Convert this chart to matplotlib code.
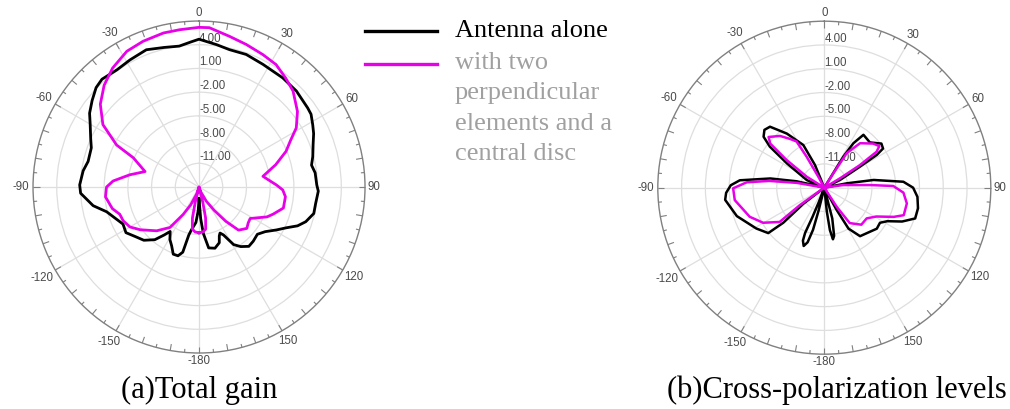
import numpy as np
import matplotlib
matplotlib.use("Agg")
import matplotlib.pyplot as plt
from matplotlib.lines import Line2D

# ---------------- data ----------------
R_MIN, R_MAX = -14.0, 7.0
ring_values = [-11, -8, -5, -2, 1, 4]
ring_labels = ["-11.00", "-8.00", "-5.00", "-2.00", "1.00", "4.00"]
theta_tick_deg = [0, 30, 60, 90, 120, 150, 180, 210, 240, 270, 300, 330]
theta_tick_labels = ["0", "30", "60", "90", "120", "150", "-180", "-150", "-120", "-90", "-60", "-30"]

# (a) Total gain - Antenna alone
gain_alone_ang = [-180, -178, -175, -170, -168, -166, -163, -159, -155, -151, -147, -144, -140,
                  -134, -128, -122, -116, -109, -105, -100, -93, -89, -82, -77, -70, -66, -60,
                  -56, -51, -46, -42, -35, -28.5, -21, -14, -8, -3, 0, 7, 12.5, 19.6, 27.5,
                  37.5, 45.4, 54, 57, 61.3, 65, 69.6, 75, 79, 83, 89, 92, 98, 103, 108, 111.5,
                  115, 119, 124, 129, 135, 140, 145, 149, 153, 155.5, 157.5, 160, 165.4, 171,
                  174.7, 177, 180]
gain_alone_db = [-12.5, -11.0, -9.5, -8.5, -7.8, -5.5, -4.9, -4.9, -5.8, -6.4, -7.3, -6.5, -5.3,
                 -4.3, -3.8, -3.1, -3.3, -2.5, -1.9, -0.4, 1.0, 1.1, 0.8, 0.4, 0.5, 1.0, 1.9,
                 2.7, 3.4, 4.1, 4.35, 4.1, 4.3, 4.6, 4.2, 4.0, 4.4, 4.7, 4.15, 3.8, 3.8, 3.5,
                 3.4, 3.3, 3.0, 2.9, 2.4, 2.0, 1.4, 0.9, 0.5, 0.8, 0.9, 1.1, 0.9, 0.9, 0.2, -0.6,
                 -1.8, -2.8, -3.9, -4.5, -4.3, -4.2, -4.8, -5.5, -7.2, -7.6, -7.3, -6.5, -6.0, -6.2,
                 -8.1, -10.0, -12.5]

# (a) Total gain - with two perpendicular elements and a central disc
gain_disc_ang = [-180, -175, -171, -168, -166, -164, -161.6, -155, -150, -144.3, -136, -126,
                 -120, -114, -109, -104, -96, -90, -86, -80, -74, -66, -63, -57, -50, -43, -36,
                 -28, -21, -13, -7, 0, 3.7, 11.4, 18.3, 25.7, 32.2, 38.6, 44.4, 52.5, 58.7, 63,
                 67.7, 73.8, 80.5, 85, 88.5, 92, 96.4, 104, 110, 113.7, 121.6, 126, 130.9, 137.5,
                 142, 147, 153, 160, 164, 166, 168, 171, 175, 180]
gain_disc_db = [-8.2, -8.3, -8.6, -10.0, -12.0, -14.0, -13.1, -11.5, -10.0, -7.7, -6.3, -4.8,
                -3.9, -3.5, -3.4, -2.7, -2.1, -2.3, -3.1, -5.1, -6.9, -4.9, -2.3, 0.5, 2.3, 3.6, 4.6,
                5.45, 5.75, 6.0, 6.05, 6.2, 6.2, 5.45, 5.0, 4.6, 4.3, 3.6, 3.0, 1.7, 0.4, -1.0,
                -2.1, -3.9, -5.8, -5.0, -4.2, -3.4, -3.0, -3.0, -4.0, -4.6, -6.4, -6.3, -6.0, -6.6,
                -8.5, -10.5, -12.0, -13.3, -14.0, -12.0, -10.0, -8.6, -8.3, -8.2]

# (b) Cross-polarization - Antenna alone
xpol_alone_ang = [-180, -167, -166, -165, -163, -160.5, -158, -157, -158, -159, -160,
                  -133, -127.5, -130.5, -129, -121, -108, -97, -93, -88.5, -85, -80.3, -77, -76, -75,
                  -68, -66.5, -57, -53, -50, -46, -41.7, -34.7, -26.2, -22.4, -21,
                  28, 31.5, 33.2, 36.5, 45.2, 52.3, 56.3, 58, 59.5, 63.9, 66,
                  76, 79, 81.1, 85.7, 90, 95.6, 102.4, 108.7, 113.5, 118, 122.2, 128, 134, 143.6,
                  149.4, 151, 152,
                  163, 165.5, 168.5, 170.5, 172.5, 174, 176, 180]
xpol_alone_db = [-14, -14, -11, -8.5, -6.8, -6.2, -6.8, -7.8, -10, -12, -14,
                 -14, -10.7, -7.2, -4.9, -4.0, -2.4, -1.4, -1.6, -2.2, -3.3, -7.1, -10.4, -12.6, -14,
                 -14, -11.6, -8.4, -5.4, -4.0, -3.5, -3.7, -5.7, -8.0, -10.9, -14,
                 -14, -9.4, -7.3, -5.7, -5.9, -4.9, -5.1, -6.2, -8.8, -11.8, -14,
                 -14, -11.1, -7.7, -4.0, -2.8, -2.2, -1.9, -1.9, -3.3, -5.0, -5.7, -5.6, -6.0, -6.4,
                 -8.0, -10.8, -14,
                 -14, -10, -7.8, -7.4, -8.6, -11, -14, -14]

# (b) Cross-polarization - with two perpendicular elements and a central disc
xpol_disc_ang = [-180, -128, -125.5, -127.5, -119.8, -111.3, -97.9, -90.4, -86, -83, -80, -78,
                 -60, -58, -53.7, -50.8, -47.7, -40.6, -35, -31, -29.7, -28.6, -28,
                 30, 32.1, 33, 38.8, 47.9, 52.9, 55.5, 57.6, 59.2, 61,
                 80, 82, 86.7, 88.6, 93.6, 100.8, 109.1, 112.8, 119, 125.9, 135, 144.3, 147, 148,
                 180]
xpol_disc_db = [-14, -14, -10.2, -6.9, -5.1, -3.9, -2.6, -2.5, -4.2, -7.0, -10.5, -14,
                -14, -11.4, -8.1, -5.2, -4.5, -5.4, -6.5, -7.2, -9.5, -12.4, -14,
                -14, -11.9, -8.8, -6.8, -5.7, -5.3, -6.0, -8.7, -11.7, -14,
                -14, -11.6, -8.2, -5.3, -4.0, -3.4, -3.4, -4.5, -6.5, -7.4, -7.4, -8.5, -11.1, -14,
                -14]

series_names = ["Antenna alone", "with two\nperpendicular\nelements and a\ncentral disc"]
captions = ["(a)Total gain", "(b)Cross-polarization levels"]

# ---------------- style ----------------
BLACK = "#000000"
MAGENTA = "#e800e8"
GRID = "#dedede"
SPINE = "#808080"
TICKTXT = "#4a4a4a"
DPI = 100
PX_PER_DB = 166.0 / (R_MAX - R_MIN)

fig = plt.figure(figsize=(10.10, 4.09), dpi=DPI)


def setup(ax):
    ax.set_theta_zero_location("N")
    ax.set_theta_direction(-1)
    ax.set_ylim(R_MIN, R_MAX)
    ax.set_xticks(np.deg2rad(theta_tick_deg))
    ax.set_xticklabels([])
    ax.tick_params(axis="x", length=0)
    ax.set_yticks(ring_values)
    ax.set_yticklabels([])
    ax.grid(True, which="major", color=GRID, lw=0.9)
    ax.spines["polar"].set_color(SPINE)
    ax.spines["polar"].set_linewidth(1.0)
    # tick marks on the outer circle (inward)
    for deg in range(0, 360, 5):
        L = 6.5 if deg % 10 == 0 else 3.5
        t = np.deg2rad(deg)
        ax.plot([t, t], [R_MAX, R_MAX - L / PX_PER_DB], color=SPINE, lw=0.8,
                solid_capstyle="butt", zorder=2, clip_on=False)
    # angle labels outside the circle
    for deg, lab in zip(theta_tick_deg, theta_tick_labels):
        t = np.deg2rad(deg)
        w = 5.6 * len(lab)
        h = 9.0
        d = 0.5 * w * abs(np.sin(t)) + 0.5 * h * abs(np.cos(t)) + 3.5
        dx_pt = d * np.sin(t) * 72.0 / DPI
        dy_pt = d * np.cos(t) * 72.0 / DPI
        ax.annotate(lab, xy=(t, R_MAX), xytext=(dx_pt, dy_pt), textcoords="offset points",
                    ha="center", va="center", fontsize=8.3, color=TICKTXT,
                    family="Liberation Sans", annotation_clip=False)
    for r, lab in zip(ring_values, ring_labels):
        ax.text(0, r, lab, ha="left", va="bottom", fontsize=8.3, color=TICKTXT,
                family="Liberation Sans", zorder=1)


ax1 = fig.add_axes([0.0327, 0.1369, 0.3287, 0.8117], projection="polar")
setup(ax1)
ax1.plot(np.deg2rad(gain_alone_ang), gain_alone_db, color=BLACK, lw=2.0, zorder=3)
ax1.plot(np.deg2rad(gain_disc_ang), gain_disc_db, color=MAGENTA, lw=2.0, zorder=3)

ax2 = fig.add_axes([0.6513, 0.134, 0.3297, 0.8142], projection="polar")
setup(ax2)
ax2.plot(np.deg2rad(xpol_alone_ang), xpol_alone_db, color=BLACK, lw=1.8, zorder=3)
ax2.plot(np.deg2rad(xpol_disc_ang), xpol_disc_db, color=MAGENTA, lw=1.8, zorder=3)

# legend
W, H = 1010.0, 409.0
fig.add_artist(Line2D([365 / W, 437 / W], [1 - 31 / H, 1 - 31 / H], color=BLACK, lw=2.4))
fig.add_artist(Line2D([365 / W, 437 / W], [1 - 64 / H, 1 - 64 / H], color=MAGENTA, lw=2.4))
fig.text(455 / W, 1 - 31 / H, series_names[0], ha="left", va="center",
         fontsize=19, family="Liberation Serif", color="#000000")
for i, line in enumerate(series_names[1].split("\n")):
    fig.text(455 / W, 1 - (63 + 30.5 * i) / H, line, ha="left", va="center",
             fontsize=19, family="Liberation Serif", color="#a0a0a0")

# captions
fig.text(199.5 / W, 1 - 398 / H, captions[0], ha="center", va="baseline",
         fontsize=22, family="Liberation Serif")
fig.text(836.5 / W, 1 - 398 / H, captions[1], ha="center", va="baseline",
         fontsize=22, family="Liberation Serif")

fig.savefig("out.png", dpi=DPI)
